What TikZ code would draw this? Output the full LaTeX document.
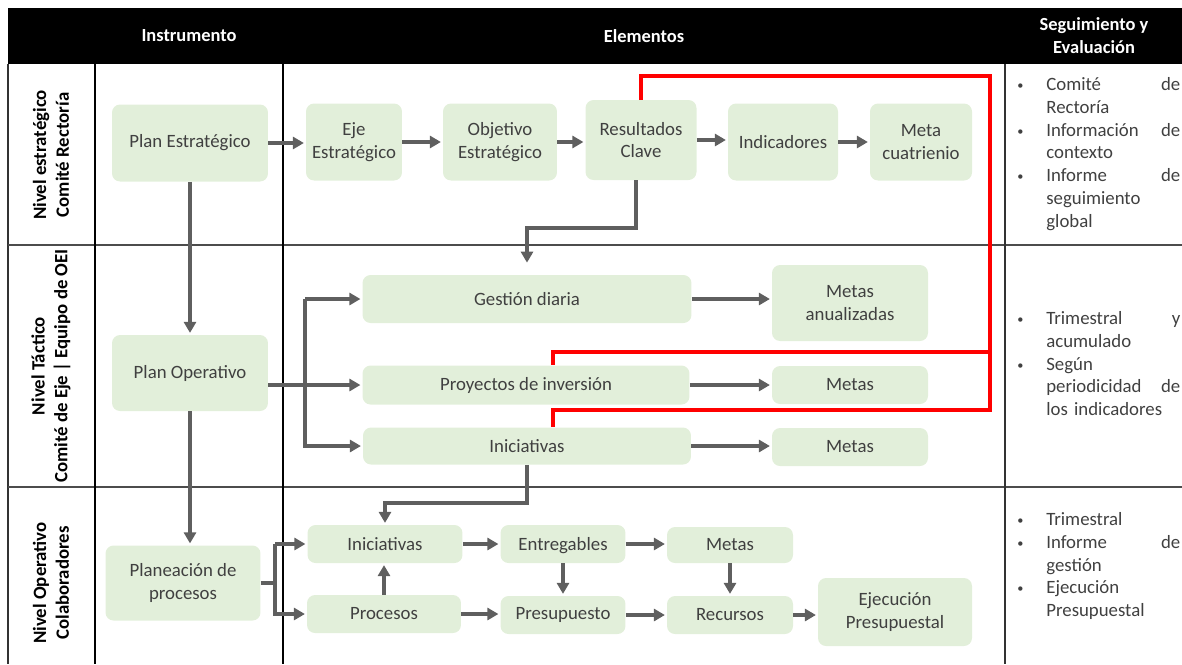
\documentclass[tikz,border=0pt]{standalone}
\usepackage{fontspec}
\setmainfont{Carlito}
\usepackage{tikz}
\usetikzlibrary{arrows.meta}
\usepackage{xcolor}
\definecolor{ColCaja}{RGB}{226,239,218}
\definecolor{ColFlecha}{RGB}{95,95,95}
\definecolor{ColTexto}{RGB}{64,64,64}
\definecolor{ColRoja}{RGB}{255,0,0}
\tikzstyle{Caja}=[rectangle,rounded corners=0.16cm,fill=ColCaja,align=center,inner sep=1pt,
text=ColTexto,font=\fontsize{10.7}{13}\selectfont]
\tikzstyle{Flecha}=[ColFlecha,line width=2pt,-{Triangle[length=0.22cm,width=0.24cm]},shorten >=1pt]
\tikzstyle{Linea}=[ColFlecha,line width=2pt]
\tikzstyle{LineaRoja}=[ColRoja,line width=1.8pt]
\tikzstyle{Encabezado}=[text=white,align=center,font=\bfseries\fontsize{10.5}{13}\selectfont]
\tikzstyle{Nivel}=[rotate=90,align=center,font=\bfseries\fontsize{10.7}{13}\selectfont]
\tikzstyle{Lista}=[anchor=north west,inner sep=0pt,text width=3.36cm,align=left,text=ColTexto,
font=\fontsize{10.7}{13}\selectfont]
\newcommand{\Vineta}{\makebox[0.68cm][l]{\hspace{0.1cm}\raisebox{0.6pt}{\scriptsize\textbullet}}}
\newcommand{\Sangria}{\hspace*{0.68cm}}

\begin{document}
\begin{tikzpicture}[x=0.02cm,y=-0.02cm]
        \useasboundingbox(0,0)rectangle(1182,664);
        \fill[black](8,8)rectangle(1182,64);
        \draw[line width=0.8pt,black!80](8,64)--(8,664);
        \draw[line width=1.1pt,black!70](8,245)--(1182,245);
        \draw[line width=1.1pt,black!70](8,487)--(1182,487);
        \draw[line width=0.7pt](95,64)--(95,664);
        \draw[line width=0.7pt](283,64)--(283,664);
        \draw[line width=0.8pt,black!80](1005,64)--(1005,664);
        \node[Encabezado](hi)at(189,36){Instrumento};
        \node[Encabezado](he)at(644,36){Elementos};
        \node[Encabezado](hs)at(1094,36){Seguimiento y\\Evaluación};
        \node[Nivel](n1)at(51,155){Nivel estratégico\\Comité Rectoría};
        \node[Nivel](n2)at(51,366){Nivel Táctico\\Comité de Eje | Equipo de OEI};
        \node[Nivel](n3)at(51,583){Nivel Operativo\\Colaboradores};
        \node[Caja,minimum width=3.12cm,minimum height=1.54cm](pe)at(190,143){Plan Estratégico};
        \node[Caja,minimum width=1.92cm,minimum height=1.54cm](eje)at(354,142){Eje\\Estratégico};
        \node[Caja,minimum width=2.28cm,minimum height=1.54cm](obj)at(500,142){Objetivo\\Estratégico};
        \node[Caja,minimum width=2.22cm,minimum height=1.6cm](rc)at(641,140){Resultados\\Clave};
        \node[Caja,minimum width=2.2cm,minimum height=1.54cm](ind)at(783,142){Indicadores};
        \node[Caja,minimum width=2.04cm,minimum height=1.54cm](mc)at(921,142){Meta\\cuatrienio};
        \node[Caja,minimum width=3.12cm,minimum height=1.52cm](po)at(190,373){Plan Operativo};
        \node[Caja,minimum width=6.58cm,minimum height=0.96cm](gd)at(527,299){Gestión diaria};
        \node[Caja,minimum width=3.12cm,minimum height=1.52cm](ma)at(850,303){Metas\\anualizadas};
        \node[Caja,minimum width=6.54cm,minimum height=0.78cm](pi)at(526,385){Proyectos de inversión};
        \node[Caja,minimum width=3.12cm,minimum height=0.76cm](mp)at(850,385){Metas};
        \node[Caja,minimum width=6.56cm,minimum height=0.74cm](it)at(527,446){Iniciativas};
        \node[Caja,minimum width=3.12cm,minimum height=0.76cm](mi)at(850,447){Metas};
        \node[Caja,minimum width=3.1cm,minimum height=1.5cm](pp)at(183,583){Planeación de\\procesos};
        \node[Caja,minimum width=3.1cm,minimum height=0.76cm](io)at(385,544){Iniciativas};
        \node[Caja,minimum width=3.08cm,minimum height=0.76cm](pr)at(384,614){Procesos};
        \node[Caja,minimum width=2.5cm,minimum height=0.76cm,text depth=0.1ex](en)at(563,544){Entregables};
        \node[Caja,minimum width=2.5cm,minimum height=0.76cm](ps)at(563,615){Presupuesto};
        \node[Caja,minimum width=2.52cm,minimum height=0.72cm](mo)at(730,545){Metas};
        \node[Caja,minimum width=2.52cm,minimum height=0.76cm](re)at(730,615){Recursos};
        \node[Caja,minimum width=3.08cm,minimum height=1.36cm](ep)at(895,612){Ejecución\\Presupuestal};
        \coordinate(k1)at(0,228);
        \coordinate(k2)at(305,0);
        \coordinate(k3)at(0,503);
        \coordinate(k4)at(275,0);
        \coordinate(k5)at(636,0);
        \coordinate(r1)at(0,76);
        \coordinate(r2)at(990,0);
        \coordinate(r3)at(0,352);
        \coordinate(r4)at(0,410);
        \coordinate(r5)at(553,0);
        \draw[Flecha](pe.east)--(pe.east-|eje.west);
        \draw[Flecha](eje.east)--(obj.west);
        \draw[Flecha](obj.east)--(obj.east-|rc.west);
        \draw[Flecha](rc.east)--(rc.east-|ind.west);
        \draw[Flecha](ind.east)--(mc.west);
        \draw[Flecha](pe.south)--(po.north);
        \draw[Flecha,shorten >=0.24cm](k5|-rc.south)--(k5|-k1)-|(gd.north);
        \draw[Flecha](po.south)--(po.south|-pp.north);
        \draw[Flecha](po.east|-pi.west)--(pi.west);
        \draw[Flecha](k2|-gd.west)--(gd.west);
        \draw[Flecha](k2|-gd.west)--(k2|-it.west)--(it.west);
        \draw[Flecha](gd.east)--(gd.east-|ma.west);
        \draw[Flecha](pi.east)--(pi.east-|mp.west);
        \draw[Flecha](it.east)--(it.east-|mi.west);
        \draw[Flecha](it.south)--(it.south|-k3)-|(io.north);
        \draw[Linea](pp.east)--(pp.east-|k4);
        \draw[Flecha](k4|-io.west)--(io.west);
        \draw[Flecha](k4|-io.west)--(k4|-pr.west)--(pr.west);
        \draw[Flecha](pr.north)--(pr.north|-io.south);
        \draw[Flecha](io.east)--(en.west);
        \draw[Flecha](pr.east)--(pr.east-|ps.west);
        \draw[Flecha](en.east)--(en.east-|mo.west);
        \draw[Flecha](ps.east)--(re.west);
        \draw[Flecha](en.south)--(ps.north);
        \draw[Flecha](mo.south)--(re.north);
        \draw[Flecha](re.east)--(re.east-|ep.west);
        \draw[LineaRoja](rc.north)--(rc.north|-r1)--(r2|-r1)--(r2|-r4)--(r5|-r4)--(r5|-it.north);
        \draw[LineaRoja](r2|-r3)--(r5|-r3)--(r5|-pi.north);
        \node[Lista](s1)at(1012,77){\Vineta Comité\hfill de\\
        \Sangria Rectoría\\
        \Vineta Información\hfill de\\
        \Sangria contexto\\
        \Vineta Informe\hfill de\\
        \Sangria seguimiento\\
        \Sangria global};
        \node[Lista](s2)at(1012,311){\Vineta Trimestral\hfill y\\
        \Sangria acumulado\\
        \Vineta Según\\
        \Sangria periodicidad\hfill de\\
        \Sangria los indicadores};
        \node[Lista](s3)at(1012,512){\Vineta Trimestral\\
        \Vineta Informe\hfill de\\
        \Sangria gestión\\
        \Vineta Ejecución\\
        \Sangria Presupuestal};
    \end{tikzpicture}
\end{document}
